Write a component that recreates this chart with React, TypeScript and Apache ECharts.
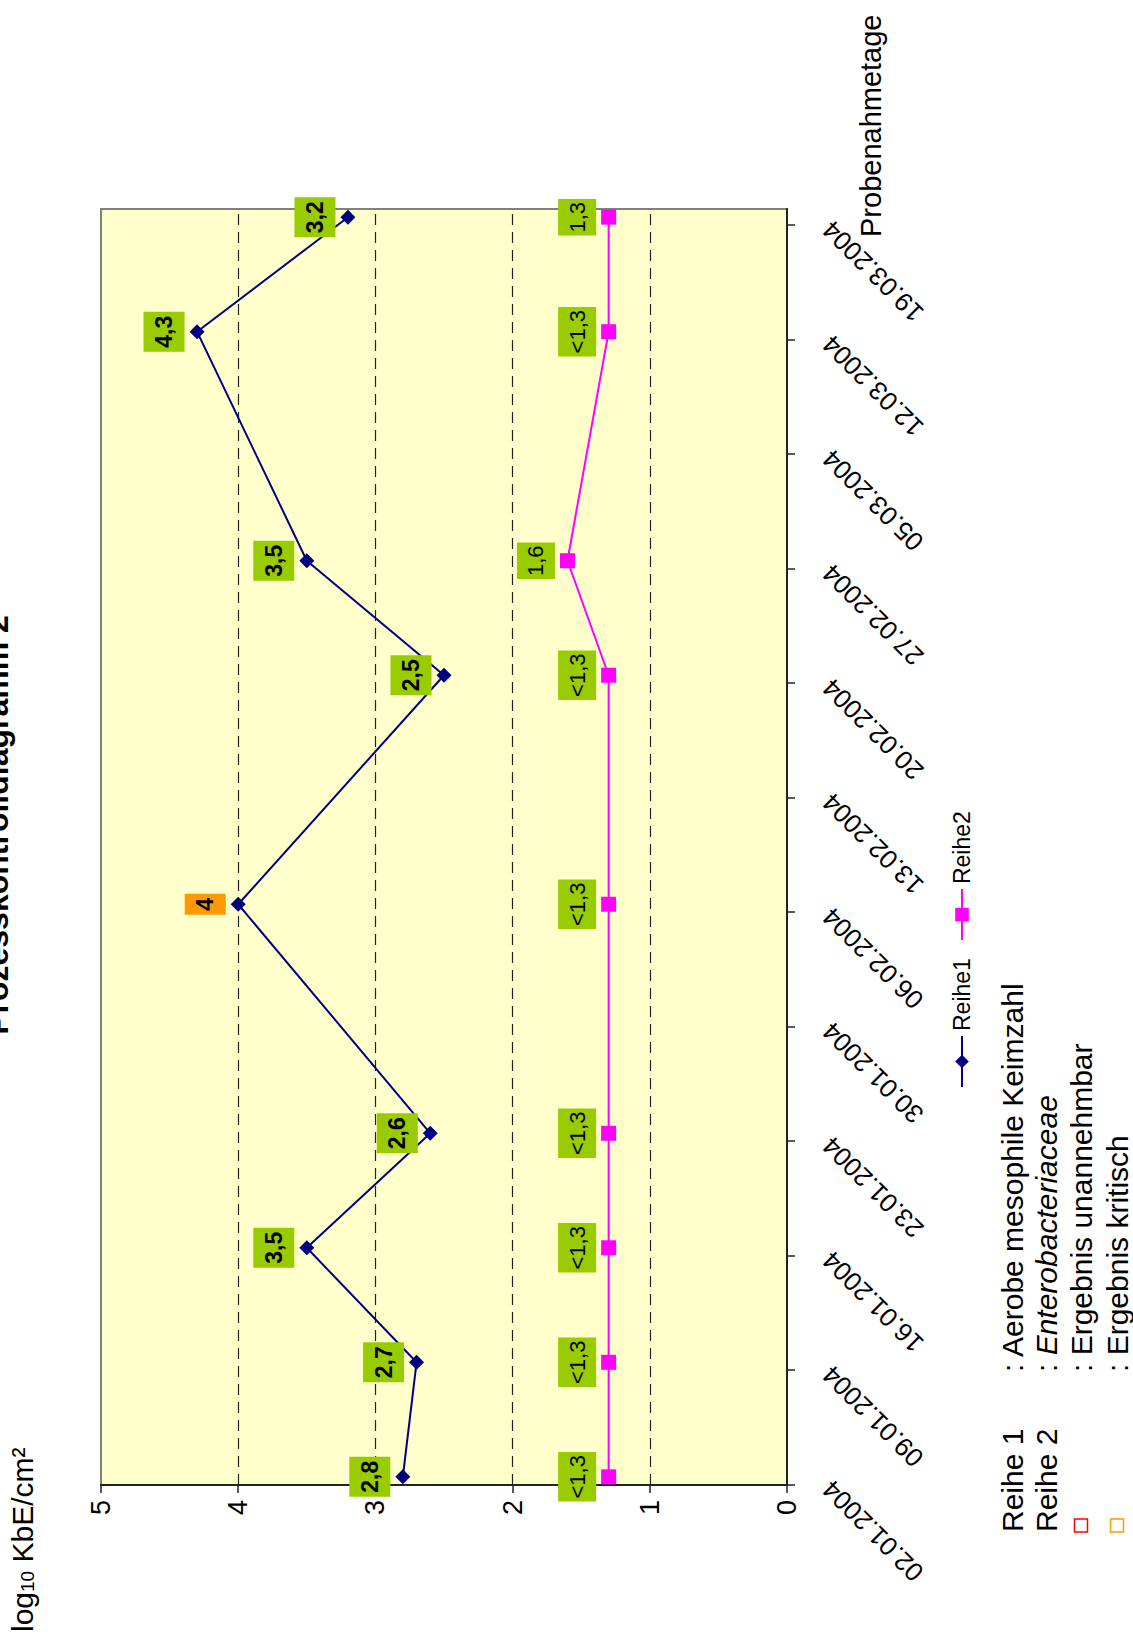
import React, { useEffect, useRef } from "react";
import * as echarts from "echarts";

// Sampling days and measured values (log10 KbE/cm²)
const sampleDates = [
  "02.01.2004", "09.01.2004", "16.01.2004", "23.01.2004", "06.02.2004",
  "20.02.2004", "27.02.2004", "12.03.2004", "19.03.2004",
];
const reihe1Values = [2.8, 2.7, 3.5, 2.6, 4.0, 2.5, 3.5, 4.3, 3.2];
const reihe1Critical = [false, false, false, false, true, false, false, false, false];
const reihe2Values = [1.3, 1.3, 1.3, 1.3, 1.3, 1.3, 1.6, 1.3, 1.3];
const reihe2BelowLimit = [true, true, true, true, true, true, false, true, false];

// Date axis: weekly tick labels, axis runs to the end of the last sampling day
const tickDates = [
  "02.01.2004", "09.01.2004", "16.01.2004", "23.01.2004", "30.01.2004", "06.02.2004",
  "13.02.2004", "20.02.2004", "27.02.2004", "05.03.2004", "12.03.2004", "19.03.2004",
];
const axisStart = "02.01.2004";
const axisEnd = "20.03.2004";
const valueMin = 0;
const valueMax = 5;

const FONT = '"Liberation Sans", Arial, Helvetica, sans-serif';
const GREEN = "#99CC00";
const ORANGE = "#FF9900";
const NAVY = "#000080";
const MAGENTA = "#FF00FF";

// Unrotated chart canvas; it is turned by 90° on the page
const W = 1635;
const H = 1133;

const DAY_MS = 86400000;
function parseDate(s: string): number {
  const [d, m, y] = s.split(".").map(Number);
  return Date.UTC(y, m - 1, d);
}
function dayIndex(s: string): number {
  return Math.round((parseDate(s) - parseDate(axisStart)) / DAY_MS);
}
function fmtNum(v: number): string {
  return String(v).replace(".", ",");
}

const tickDays = tickDates.map(dayIndex);

function buildOption(): echarts.EChartsOption {
  const labelBase = {
    show: true,
    position: "top" as const,
    distance: 5,
    fontFamily: FONT,
    color: "#000",
    backgroundColor: GREEN,
  };

  const reihe1Data = sampleDates.map((d, i) => ({
    value: [dayIndex(d) + 0.5, reihe1Values[i]],
    label: { backgroundColor: reihe1Critical[i] ? ORANGE : GREEN },
  }));
  const reihe2Data = sampleDates.map((d, i) => ({
    value: [dayIndex(d) + 0.5, reihe2Values[i]],
  }));

  const noteSize = 30;
  const noteFont = `${noteSize}px ${FONT}`;
  const noteX = 103;
  const colonX = 263;
  const rowY = [1012, 1046, 1081, 1117];
  const mid = { verticalAlign: "middle", textVerticalAlign: "middle" };

  return {
    animation: false,
    backgroundColor: "#ffffff",
    grid: {
      left: 150,
      top: 101,
      width: 1276,
      height: 686,
      show: true,
      backgroundColor: "#FFFFCC",
      borderColor: "#808080",
      borderWidth: 2,
    },
    legend: {
      left: 542,
      top: 945,
      itemWidth: 51,
      itemHeight: 17,
      itemGap: 17,
      selectedMode: false,
      textStyle: { fontSize: 23, fontFamily: FONT, color: "#000", lineHeight: 24 },
      data: ["Reihe1", "Reihe2"],
    },
    xAxis: {
      type: "value",
      min: 0,
      max: dayIndex(axisEnd),
      interval: 7,
      axisLine: { show: true, onZero: false, lineStyle: { color: "#222", width: 2 } },
      axisTick: {
        show: true,
        inside: false,
        length: 8,
        customValues: tickDays,
        lineStyle: { color: "#222", width: 1.5 },
      },
      axisLabel: {
        customValues: tickDays,
        rotate: 45,
        margin: 40,
        fontSize: 26,
        fontFamily: FONT,
        color: "#000",
        formatter: (v: number) => {
          const k = tickDays.indexOf(Math.round(v));
          return k >= 0 ? tickDates[k] : "";
        },
      },
      splitLine: { show: false },
    } as any,
    yAxis: {
      type: "value",
      min: valueMin,
      max: valueMax,
      interval: 1,
      axisLine: { show: true, lineStyle: { color: "#222", width: 2 } },
      axisTick: { show: true, inside: false, length: 8, lineStyle: { color: "#222", width: 1.5 } },
      axisLabel: { margin: 15, fontSize: 27, fontFamily: FONT, color: "#000" },
      splitLine: {
        show: true,
        showMinLine: false,
        showMaxLine: false,
        lineStyle: { color: "#222", width: 1.2, type: [11, 7] },
      },
    } as any,
    series: [
      {
        name: "Reihe1",
        type: "line",
        data: reihe1Data,
        symbol: "diamond",
        symbolSize: 15,
        color: NAVY,
        itemStyle: { color: NAVY },
        lineStyle: { color: NAVY, width: 2 },
        emphasis: { disabled: true },
        z: 3,
        label: {
          ...labelBase,
          fontSize: 23,
          lineHeight: 23,
          padding: [9, 4, 9, 4],
          fontWeight: "bold",
          formatter: (p: any) => fmtNum(p.value[1]),
        },
      },
      {
        name: "Reihe2",
        type: "line",
        data: reihe2Data,
        symbol: "rect",
        symbolSize: 15,
        color: MAGENTA,
        itemStyle: { color: MAGENTA },
        lineStyle: { color: MAGENTA, width: 2 },
        emphasis: { disabled: true },
        z: 3,
        label: {
          ...labelBase,
          fontSize: 22,
          lineHeight: 22,
          padding: [8, 3, 8, 3],
          fontWeight: "normal",
          formatter: (p: any) =>
            (reihe2BelowLimit[p.dataIndex] ? "<" : "") + fmtNum(p.value[1]),
        },
      },
    ],
    graphic: [
      {
        type: "text",
        x: 810,
        y: -3,
        style: {
          text: "Prozesskontrolldiagramm 2",
          font: `bold 32px ${FONT}`,
          fill: "#000",
          align: "center",
          textAlign: "center",
          ...mid,
        } as any,
      },
      {
        type: "text",
        x: 3,
        y: 7,
        style: {
          text: "{b|log}{s|10}{b| KbE/cm²}",
          fill: "#000",
          verticalAlign: "top",
          textVerticalAlign: "top",
          rich: {
            b: { fontSize: 30, lineHeight: 30, fontFamily: FONT, verticalAlign: "bottom", fill: "#000" },
            s: { fontSize: 19, lineHeight: 9, fontFamily: FONT, verticalAlign: "bottom", fill: "#000" },
          },
        } as any,
      },
      {
        type: "text",
        x: 1398,
        y: 871,
        style: { text: "Probenahmetage", font: `29px ${FONT}`, fill: "#000", ...mid } as any,
      },
      {
        type: "text",
        x: noteX,
        y: rowY[0],
        style: { text: "Reihe 1", font: noteFont, fill: "#000", ...mid } as any,
      },
      {
        type: "text",
        x: colonX,
        y: rowY[0],
        style: { text: ": Aerobe mesophile Keimzahl", font: noteFont, fill: "#000", ...mid } as any,
      },
      {
        type: "text",
        x: noteX,
        y: rowY[1],
        style: { text: "Reihe 2", font: noteFont, fill: "#000", ...mid } as any,
      },
      {
        type: "text",
        x: colonX,
        y: rowY[1],
        style: {
          text: "{n|: }{i|Enterobacteriaceae}",
          fill: "#000",
          ...mid,
          rich: {
            n: { fontSize: noteSize, fontFamily: FONT, fill: "#000" },
            i: { fontSize: noteSize, fontFamily: FONT, fontStyle: "italic", fill: "#000" },
          },
        } as any,
      },
      {
        type: "rect",
        shape: { x: noteX, y: rowY[2] - 6.5, width: 13, height: 13 },
        style: { fill: "none", stroke: "#FF0000", lineWidth: 1.5 },
      },
      {
        type: "text",
        x: colonX,
        y: rowY[2],
        style: { text: ": Ergebnis unannehmbar", font: noteFont, fill: "#000", ...mid } as any,
      },
      {
        type: "rect",
        shape: { x: noteX, y: rowY[3] - 6.5, width: 13, height: 13 },
        style: { fill: "none", stroke: ORANGE, lineWidth: 1.5 },
      },
      {
        type: "text",
        x: colonX,
        y: rowY[3],
        style: { text: ": Ergebnis kritisch", font: noteFont, fill: "#000", ...mid } as any,
      },
    ],
  };
}

export default function App() {
  const ref = useRef<HTMLDivElement>(null);

  useEffect(() => {
    if (!ref.current) return;
    const chart = echarts.init(ref.current, null, { renderer: "svg", width: W, height: H });
    chart.setOption(buildOption());
    return () => chart.dispose();
  }, []);

  return (
    <div
      style={{
        position: "absolute",
        left: 0,
        top: 0,
        width: H,
        height: W,
        overflow: "hidden",
        background: "#ffffff",
      }}
    >
      <div
        ref={ref}
        style={{
          position: "absolute",
          left: 0,
          top: 0,
          width: W,
          height: H,
          transformOrigin: "0 0",
          transform: `translateY(${W}px) rotate(-90deg)`,
        }}
      />
    </div>
  );
}
